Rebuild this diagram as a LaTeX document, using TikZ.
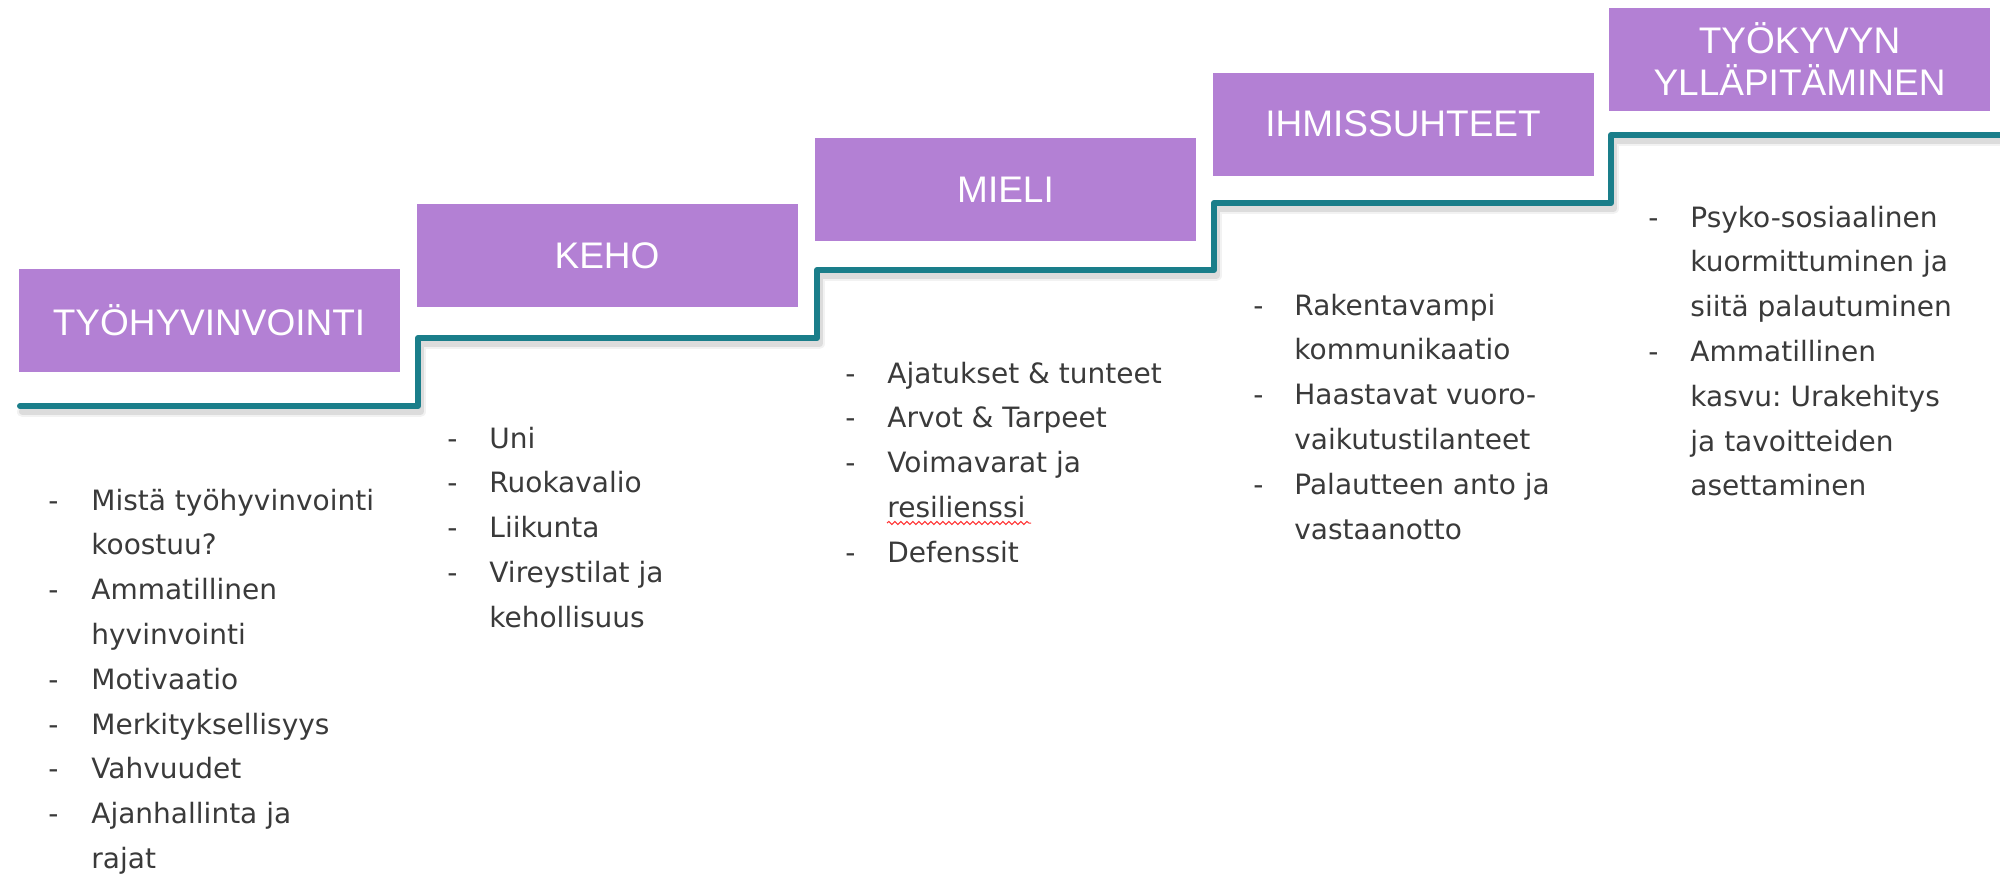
\documentclass[tikz,border=0pt]{standalone}
\usepackage{fontspec}
\setmainfont{DejaVu Sans}
\newfontfamily\boxfont{Liberation Sans}
\usetikzlibrary{decorations.pathmorphing}
\definecolor{stepfill}{HTML}{B380D4}
\definecolor{stairline}{HTML}{1A7E8A}
\definecolor{bodytext}{HTML}{3A3A3A}
\newcommand{\dsh}{-}
\frenchspacing
\begin{document}
\begin{tikzpicture}[x=0.5pt,y=-0.5pt,
  stepbox/.style={fill=stepfill, draw=none, minimum width=190.5pt, minimum height=51.5pt,
    inner sep=0pt, text=white, align=center,
    font=\boxfont\fontsize{18.5pt}{21pt}\selectfont},
  itemlist/.style={anchor=base west, inner sep=0pt, text=bodytext,
    font=\fontsize{14pt}{22.4pt}\selectfont\frenchspacing},
  stair/.style={draw=stairline, line width=3pt, line join=round, line cap=round},
  stairshadow/.style={draw=black, line join=round, line cap=round},
  spellmark/.style={draw=red!80!white, line width=0.5pt, decorate,
    decoration={snake, amplitude=0.8pt, segment length=3pt}},
]
\useasboundingbox (0,0) rectangle (2000,873);

% step boxes
\node[stepbox] (b1) at (209,320)    {TYÖHYVINVOINTI};
\node[stepbox] (b2) at (607,255.5)  {KEHO};
\node[stepbox] (b3) at (1005.5,189.5) {MIELI};
\node[stepbox] (b4) at (1403,124)   {IHMISSUHTEET};
\node[stepbox] (b5) at (1799.5,59)  {TYÖKYVYN\\YLLÄPITÄMINEN};

% stair line
\coordinate (s0) at (20,406);
\coordinate (s1) at (418,406);
\coordinate (s2) at (418,338);
\coordinate (s3) at (817,338);
\coordinate (s4) at (817,270);
\coordinate (s5) at (1214,270);
\coordinate (s6) at (1214,203);
\coordinate (s7) at (1611,203);
\coordinate (s8) at (1611,135);
\coordinate (s9) at (2000,135);
\begin{scope}[transform canvas={shift={(1.2pt,-2.8pt)}}]
\draw[stairshadow, line width=5.5pt, opacity=0.05] (s0) -- (s1) -- (s2) -- (s3) -- (s4) -- (s5) -- (s6) -- (s7) -- (s8) -- (s9);
\draw[stairshadow, line width=3.5pt, opacity=0.09] (s0) -- (s1) -- (s2) -- (s3) -- (s4) -- (s5) -- (s6) -- (s7) -- (s8) -- (s9);
\end{scope}
\draw[stair] (s0) -- (s1) -- (s2) -- (s3) -- (s4) -- (s5) -- (s6) -- (s7) -- (s8) -- (s9);

% lists
\node[itemlist] (l1) at (48,510) {\begin{tabular}[t]{@{}p{21.5pt}@{}l@{}}
\dsh & Mistä työhyvinvointi\\
     & koostuu?\\
\dsh & Ammatillinen\\
     & hyvinvointi\\
\dsh & Motivaatio\\
\dsh & Merkityksellisyys\\
\dsh & Vahvuudet\\
\dsh & Ajanhallinta ja\\
     & rajat
\end{tabular}};

\node[itemlist] (l2) at (447,448) {\begin{tabular}[t]{@{}p{21pt}@{}l@{}}
\dsh & Uni\\
\dsh & Ruokavalio\\
\dsh & Liikunta\\
\dsh & Vireystilat ja\\
     & kehollisuus
\end{tabular}};

\node[itemlist] (l3) at (845,383) {\begin{tabular}[t]{@{}p{21pt}@{}l@{}}
\dsh & Ajatukset \& tunteet\\
\dsh & Arvot \& Tarpeet\\
\dsh & Voimavarat ja\\
     & resilienssi\\
\dsh & Defenssit
\end{tabular}};

\node[itemlist] (l4) at (1253,315) {\begin{tabular}[t]{@{}p{20.5pt}@{}l@{}}
\dsh & Rakentavampi\\
     & kommunikaatio\\
\dsh & Haastavat vuoro-\\
     & vaikutustilanteet\\
\dsh & Palautteen anto ja\\
     & vastaanotto
\end{tabular}};

\node[itemlist] (l5) at (1648,227) {\begin{tabular}[t]{@{}p{21pt}@{}l@{}}
\dsh & Psyko-sosiaalinen\\
     & kuormittuminen ja\\
     & siitä palautuminen\\
\dsh & Ammatillinen\\
     & kasvu: Urakehitys\\
     & ja tavoitteiden\\
     & asettaminen
\end{tabular}};

% spell-check underline under "resilienssi"
\coordinate (u0) at (887,523);
\coordinate (u1) at (1031,523);
\draw[spellmark] (u0) -- (u1);
\end{tikzpicture}
\end{document}
